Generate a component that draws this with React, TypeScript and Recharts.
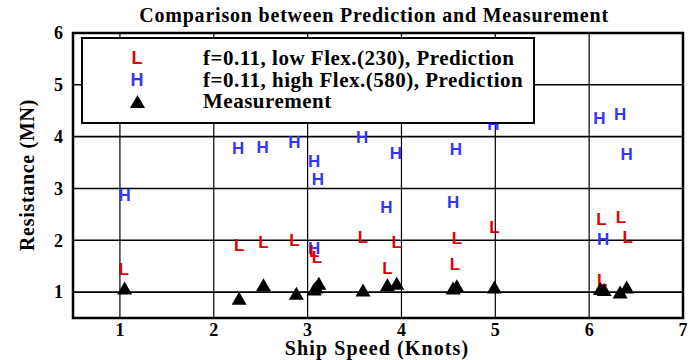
import { CartesianGrid, Legend, ReferenceArea, Scatter, ScatterChart, XAxis, YAxis } from "recharts";

const xTicks = [1, 2, 3, 4, 5, 6, 7];
const yTicks = [1, 2, 3, 4, 5, 6];

// low flex (230) prediction, "L"
const lowSpeed = [1.04, 2.27, 2.53, 2.86, 3.07, 3.1, 3.59, 3.85, 3.95, 4.57, 4.59, 4.99, 6.13, 6.14, 6.34, 6.41];
const lowRes = [1.45, 1.92, 1.96, 2.0, 1.8, 1.68, 2.07, 1.47, 1.97, 1.54, 2.05, 2.26, 2.41, 1.23, 2.45, 2.07];

// high flex (580) prediction, "H"
const highSpeed = [1.05, 2.26, 2.52, 2.86, 3.07, 3.07, 3.11, 3.58, 3.84, 3.94, 4.55, 4.58, 4.98, 6.11, 6.15, 6.33, 6.4];
const highRes = [2.88, 3.78, 3.81, 3.9, 3.54, 1.86, 3.19, 4.0, 2.65, 3.69, 2.74, 3.77, 4.24, 4.37, 2.03, 4.43, 3.66];

// measurement, triangles
const measSpeed = [1.05, 2.27, 2.53, 2.88, 3.07, 3.09, 3.12, 3.59, 3.85, 3.95, 4.55, 4.59, 4.99, 6.12, 6.16, 6.33, 6.4];
const measRes = [1.08, 0.88, 1.14, 0.98, 1.06, 1.1, 1.17, 1.04, 1.14, 1.17, 1.08, 1.12, 1.1, 1.07, 1.05, 1.0, 1.1];

const legendLabels = ["f=0.11, low Flex.(230), Prediction", "f=0.11, high Flex.(580), Prediction", "Measurement"];

const toPoints = (xs: number[], ys: number[]) => xs.map((x, i) => ({ x, y: ys[i] }));
const lowData = toPoints(lowSpeed, lowRes);
const highData = toPoints(highSpeed, highRes);
const measData = toPoints(measSpeed, measRes);

const SERIF = '"Liberation Serif", "Times New Roman", serif';
const SANS = '"Liberation Sans", Arial, sans-serif';
const RED = "#e00000";
const BLUE = "#3535ff";

const letterShape = (ch: string, color: string) => (p: any) => (
  <text x={p.cx} y={p.cy} dy="0.36em" textAnchor="middle" fill={color} fontFamily={SANS} fontWeight={700} fontSize={17}>
    {ch}
  </text>
);

const triangleShape = (p: any) => (
  <polygon points={`${p.cx - 7.5},${p.cy + 6.5} ${p.cx + 7.5},${p.cy + 6.5} ${p.cx},${p.cy - 6.5}`} fill="#000" />
);

function LegendBox() {
  const marks = [
    <span style={{ color: RED, fontFamily: SANS, fontWeight: 700, fontSize: 18 }}>L</span>,
    <span style={{ color: BLUE, fontFamily: SANS, fontWeight: 700, fontSize: 18 }}>H</span>,
    <svg width="15" height="13"><polygon points="0,13 15,13 7.5,0" fill="#000" /></svg>,
  ];
  return (
    <div style={{ width: 450, height: 74, border: "2px solid #000", background: "#fff", paddingTop: 9, boxSizing: "content-box" }}>
      {legendLabels.map((label, i) => (
        <div key={label} style={{ display: "flex", alignItems: "center", height: 21.5 }}>
          <span style={{ width: 108, display: "flex", justifyContent: "center" }}>{marks[i]}</span>
          <span style={{ marginLeft: 12, fontFamily: SERIF, fontWeight: 700, fontSize: 21, letterSpacing: 0.5, lineHeight: "21px", color: "#000", whiteSpace: "nowrap" }}>{label}</span>
        </div>
      ))}
    </div>
  );
}

const tickStyle = { fill: "#000", fontSize: 18, fontWeight: 700, fontFamily: SERIF };

export default function App() {
  return (
    <div style={{ position: "absolute", left: 0, top: 0, width: 696, height: 360, background: "#fff" }}>
      <ScatterChart width={696} height={360} margin={{ top: 33, right: 13, bottom: 0, left: 0 }}>
        <CartesianGrid horizontal={false} stroke="#000" strokeWidth={1.2} />
        <CartesianGrid vertical={false} stroke="#000" strokeWidth={1.6} />
        <XAxis
          type="number"
          dataKey="x"
          domain={[0.5, 7]}
          ticks={xTicks}
          allowDataOverflow
          axisLine={false}
          tickLine={false}
          tickSize={3}
          tickMargin={2}
          height={42}
          tick={tickStyle}
        />
        <YAxis
          type="number"
          dataKey="y"
          domain={[0.5, 6]}
          ticks={yTicks}
          allowDataOverflow
          axisLine={false}
          tickLine={false}
          tickSize={6}
          tickMargin={4}
          width={73}
          tick={tickStyle}
        />
        <ReferenceArea x1={0.5} x2={7} y1={0.5} y2={6} fill="none" stroke="#000" strokeWidth={2.5} ifOverflow="visible" />
        <Scatter data={highData} shape={letterShape("H", BLUE)} isAnimationActive={false} />
        <Scatter data={lowData} shape={letterShape("L", RED)} isAnimationActive={false} />
        <Scatter data={measData} shape={triangleShape} isAnimationActive={false} />
        <Legend
          layout="horizontal"
          verticalAlign="middle"
          align="center"
          content={() => <LegendBox />}
          wrapperStyle={{ left: 81, top: 37, width: 454, height: 85 }}
        />
      </ScatterChart>
      <div style={{ position: "absolute", left: 374, top: 15, transform: "translate(-50%, -50%)", fontFamily: SERIF, fontWeight: 700, fontSize: 20, letterSpacing: 0.8, whiteSpace: "nowrap" }}>
        Comparison between Prediction and Measurement
      </div>
      <div style={{ position: "absolute", left: 27, top: 175, transform: "translate(-50%, -50%) rotate(-90deg)", fontFamily: SERIF, fontWeight: 700, fontSize: 20, letterSpacing: 0.7, whiteSpace: "nowrap" }}>
        Resistance (MN)
      </div>
      <div style={{ position: "absolute", left: 377, top: 348, transform: "translate(-50%, -50%)", fontFamily: SERIF, fontWeight: 700, fontSize: 20, letterSpacing: 1.1, whiteSpace: "nowrap" }}>
        Ship Speed (Knots)
      </div>
    </div>
  );
}
